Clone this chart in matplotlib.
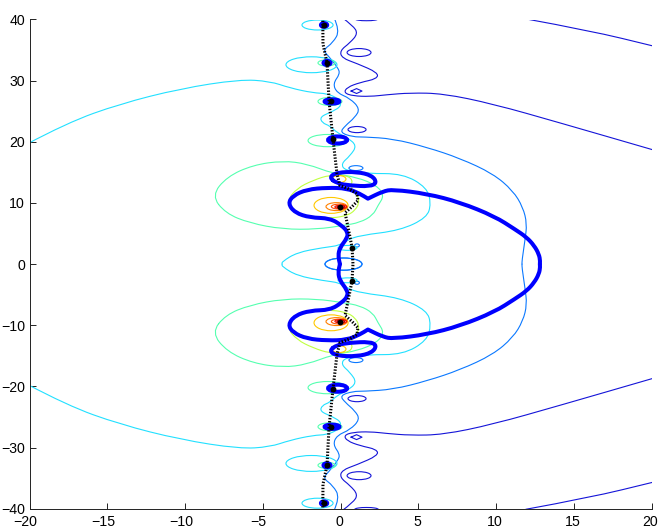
import matplotlib
matplotlib.use("Agg")
import matplotlib.pyplot as plt
from matplotlib.path import Path
from matplotlib.patches import PathPatch, Ellipse
from matplotlib.transforms import ScaledTranslation

plt.rcParams['font.family'] = ['Liberation Sans', 'DejaVu Sans']

x_ticks = [-20, -15, -10, -5, 0, 5, 10, 15, 20]
y_ticks = [-40, -30, -20, -10, 0, 10, 20, 30, 40]

# everything below is the upper half, the plot is symmetric about y = 0
navy_x = [0.1, 0.79, 1.11, 0.6, -0.05, 0.08, 1.05, 2.4, 2.33, 1.24, 0.4, 0.21, 0.79, 1.88, 2.98, 4.46, 6.57, 9.79, 14.1, 20.2]
navy_y = [40.3, 39.0, 37.7, 36.2, 34.9, 33.7, 32.8, 31.3, 30.3, 29.7, 28.9, 28.0, 27.5, 27.4, 27.7, 28.0, 27.9, 26.2, 23.1, 18.6]
corner_x = [11.9, 16.0, 20.2]
corner_y = [40.1, 38.2, 35.6]

mid_x = [-0.43, -0.05, -0.5, -1.14, -0.82, -0.17, -0.05, -0.5, -0.24, 0.6, 1.24, 0.92, 0.28, -0.05, 0.79, 1.5, 3.36,
         5.55, 7.67, 9.79, 11.08, 11.72, 11.98, 11.85, 11.66, 11.66]
mid_y = [40.3, 38.2, 36.2, 35.0, 34.1, 32.1, 31.1, 29.5, 28.0, 27.1, 25.4, 24.0, 22.6, 21.5, 20.8, 20.8, 20.5,
         19.1, 17.3, 14.8, 12.0, 9.3, 6.6, 3.9, 0.6, 0]

cyan_x = [-20.2, -17.6, -14.2, -10.3, -6.5, -4.55, -3.26, -1.78, -0.88, -0.17, 0.08, -0.56, -1.33, -1.2, -0.69, -0.24,
          0.4, 1.05, 0.6, 0.02, 0.28, 1.69, 4.0, 5.55, 5.81, 5.55, 3.81, 1.24, 0.4, -0.05, -1.14, -2.81, -3.77, -3.77]
cyan_y = [19.6, 23.1, 26.2, 28.7, 30.2, 29.9, 28.8, 28.0, 27.9, 27.1, 25.9, 24.9, 24.1, 23.1, 22.6, 21.5,
          20.7, 19.4, 17.7, 16.4, 15.3, 14.8, 14.8, 12.5, 9.9, 7.6, 5.5, 4.7, 3.9, 3.05, 2.7, 1.9, 0.4, 0]

aqua_x = [-8.3, -7.31, -5.64, -3.71, -2.17, -0.5, 1.05, 2.33, 2.8, 2.4, 2.08, 1.24, 0.15, -1.52, -3.71, -5.84, -7.4]
aqua_y = [11.2, 14.3, 16.2, 16.9, 16.4, 14.8, 14.2, 12.85, 11.2, 9.6, 8.0, 6.8, 6.3, 5.7, 5.7, 6.7, 8.3]

lime_x = [-3.45, -2.81, -1.78, -0.69, 0.4, 0.79, 0.6, 1.11, 1.18, 0.92, 0.47, -0.5, -1.78, -2.94]
lime_y = [10.4, 12.4, 13.7, 14.6, 14.5, 13.7, 12.7, 11.2, 9.9, 8.8, 8.0, 7.5, 7.6, 8.4]

thick_x = [12.81, 12.83, 12.75, 12.45, 11.95, 11.2, 9.9, 7.67, 5.55, 3.36, 2.72, 1.75, 1.75, 1.24, 0.4, -0.88, -2.17, -3.07, -3.39,
           -2.94, -1.97, -0.69, 0.08, 0.47, 0.4, -0.05, -0.17, -0.05]
thick_y = [0, 0.5, 1.6, 3.0, 4.4, 5.7, 7.8, 10.1, 11.5, 12.2, 11.9, 10.7, 10.7, 11.5, 12.4, 12.5, 12.2, 11.2, 9.9,
           8.4, 7.6, 7.5, 6.3, 5.2, 4.2, 2.7, 1.4, 0]
loop_x = [-0.75, -0.24, 1.05, 2.01, 2.33, 1.88, 0.6, -0.24]
loop_y = [14.2, 15.0, 15.1, 14.5, 13.3, 12.7, 12.85, 13.2]

zero_line_x = [-1.15, -1.14, -0.88, -0.75, -0.5, -0.24, -0.05, 0.6, 1.05, 1.11, 0.73, 0.28, 0.6, 0.73, 0.79]
zero_line_y = [39.8, 36.0, 32.9, 26.7, 20.5, 14.8, 12.85, 12.2, 11.5, 10.4, 9.4, 8.4, 4.4, 2.7, 0]
zeros_x = [-1.07, -0.88, -0.6, -0.5, -0.05, 0.73]
zeros_y = [39.1, 32.9, 26.7, 20.4, 9.4, 2.7]

diamond_x = [0.67, 1.02, 1.37, 1.02, 0.67]
diamond_y = [28.3, 28.7, 28.3, 27.9, 28.3]

# small closed contours: colour, centre x, centre y, width, height
ell_color = ['#1414d8', '#1414d8', '#1414d8',
             '#0a78ff', '#0a78ff', '#0a78ff',
             '#22e0ff', '#22e0ff', '#22e0ff',
             '#55ffb0', '#55ffb0', '#55ffb0',
             '#ffc800', '#ffc800', '#ff8000', '#ff5000', '#f01000', '#c00000']
ell_x = [1.18, 1.05, 1.66, 0.18, 0.98, 1.05, -1.49, -1.88, 0.44, -0.69, -0.91, -0.85, -0.62, -0.11, -0.27, -0.1, 0.0, 0.0]
ell_y = [34.6, 22.0, 40.1, 0.0, 15.7, 3.05, 39.1, 32.6, 2.65, 26.6, 32.9, 20.2, 9.6, 13.9, 9.4, 9.4, 9.35, 9.35]
ell_w = [1.54, 1.16, 1.5, 2.38, 0.9, 0.3, 2.0, 3.28, 1.22, 1.54, 1.1, 2.5, 2.19, 0.9, 1.35, 1.0, 0.75, 0.5]
ell_h = [1.3, 1.0, 0.6, 2.0, 0.8, 0.5, 1.63, 2.6, 0.8, 1.3, 1.0, 2.0, 2.6, 1.14, 1.3, 0.8, 0.55, 0.35]

thick_ell_x = [-0.2, -0.56, -0.88, -1.07]
thick_ell_y = [20.3, 26.6, 32.9, 39.1]
thick_ell_w = [1.22, 0.95, 0.45, 0.4]
thick_ell_h = [1.15, 0.7, 0.65, 0.6]


def smooth(ax, xs, ys, color, lw, closed=False, zorder=2):
    # quadratic path through the midpoints, so traced contours dont look polygonal
    pts = list(zip(xs, ys))
    mids = [((a[0] + b[0]) / 2, (a[1] + b[1]) / 2) for a, b in zip(pts, pts[1:] + pts[:1])]
    if closed:
        verts = [mids[-1]]
        codes = [Path.MOVETO]
        for p, m in zip(pts, mids):
            verts += [p, m]
            codes += [Path.CURVE3, Path.CURVE3]
    else:
        verts = [pts[0]]
        codes = [Path.MOVETO]
        for p, m in zip(pts[1:-1], mids[1:-1]):
            verts += [p, m]
            codes += [Path.CURVE3, Path.CURVE3]
        verts.append(pts[-1])
        codes.append(Path.LINETO)
    ax.add_patch(PathPatch(Path(verts, codes), fill=False, edgecolor=color, lw=lw,
                           capstyle='round', joinstyle='round', zorder=zorder))


fig = plt.figure(figsize=(6.64, 5.27), dpi=100)
ax = fig.add_axes([29.7 / 664, 1 - 508.7 / 527, 622 / 664, 489.2 / 527])

for sign in (1, -1):
    smooth(ax, corner_x, [sign * v for v in corner_y], '#1414d8', 0.8)
    smooth(ax, navy_x, [sign * v for v in navy_y], '#1414d8', 0.8)
    smooth(ax, mid_x, [sign * v for v in mid_y], '#0a78ff', 0.8)
    smooth(ax, cyan_x, [sign * v for v in cyan_y], '#22e0ff', 0.8)
    smooth(ax, aqua_x, [sign * v for v in aqua_y], '#55ffb0', 0.8, closed=True)
    smooth(ax, lime_x, [sign * v for v in lime_y], '#c0ff40', 0.8, closed=True)
    ax.plot(diamond_x, [sign * v for v in diamond_y], color='#1414d8', lw=0.8)

    for c, x, y, w, h in zip(ell_color, ell_x, ell_y, ell_w, ell_h):
        ax.add_patch(Ellipse((x, sign * y), w, h, fill=False, edgecolor=c, lw=0.8, zorder=2))

    smooth(ax, thick_x, [sign * v for v in thick_y], '#0000ff', 2.9, zorder=3)
    smooth(ax, loop_x, [sign * v for v in loop_y], '#0000ff', 2.9, closed=True, zorder=3)
    for x, y, w, h in zip(thick_ell_x, thick_ell_y, thick_ell_w, thick_ell_h):
        ax.add_patch(Ellipse((x, sign * y), w, h, fill=False, edgecolor='#0000ff', lw=2.9, zorder=3))

    ax.plot(zero_line_x, [sign * v for v in zero_line_y], color='k', lw=2.2,
            linestyle=(0, (0.45, 0.55)), zorder=4)
    ax.plot(zeros_x, [sign * v for v in zeros_y], 'o', color='k', ms=4.2, mew=0, zorder=5)

ax.set_xlim(-20, 20)
ax.set_ylim(-40, 40)
ax.set_xticks(x_ticks)
ax.set_yticks(y_ticks)
ax.spines['top'].set_visible(False)
ax.spines['right'].set_visible(False)
for s in ('left', 'bottom'):
    ax.spines[s].set_linewidth(0.7)
    ax.spines[s].set_color('#222222')
ax.tick_params(direction='in', length=4.3, width=0.7, color='#222222', labelsize=10.2)
ax.tick_params(axis='x', pad=4.2)
ax.tick_params(axis='y', pad=3.5)

# tick labels sit a little left of their ticks, negative ones more
for v, lab in zip(x_ticks, ax.get_xticklabels()):
    dx = -3.0 if v < 0 else -1.0
    lab.set_transform(lab.get_transform() + ScaledTranslation(dx / 72, 0, fig.dpi_scale_trans))

fig.savefig('out.png', dpi=100)
